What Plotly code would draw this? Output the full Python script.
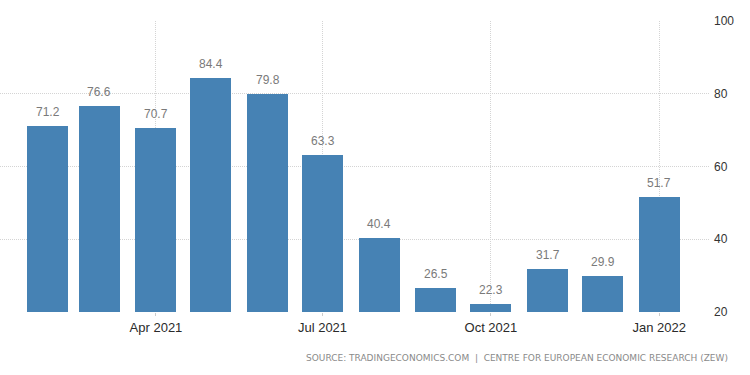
import pandas as pd
import plotly.graph_objects as go

months = ["2021-02-01", "2021-03-01", "2021-04-01", "2021-05-01", "2021-06-01", "2021-07-01",
          "2021-08-01", "2021-09-01", "2021-10-01", "2021-11-01", "2021-12-01", "2022-01-01"]
values = [71.2, 76.6, 70.7, 84.4, 79.8, 63.3, 40.4, 26.5, 22.3, 31.7, 29.9, 51.7]
tick_dates = ["2021-04-01", "2021-07-01", "2021-10-01", "2022-01-01"]
tick_labels = ["Apr 2021", "Jul 2021", "Oct 2021", "Jan 2022"]
y_ticks = [20, 40, 60, 80, 100]
source = "SOURCE: TRADINGECONOMICS.COM  |  CENTRE FOR EUROPEAN ECONOMIC RESEARCH (ZEW)"

DAY_MS = 86400000
x_dates = pd.to_datetime(months)
anchor = pd.Timestamp("2021-04-01")
x_start = anchor - pd.Timedelta(days=85.2)
x_end = anchor + pd.Timedelta(days=302.7)

fig = go.Figure()
fig.add_trace(go.Bar(
    x=x_dates, y=[v - 20 for v in values], base=20,
    width=22.4 * DAY_MS,
    marker=dict(color="#4682b4", line=dict(width=0)),
    hoverinfo="skip",
))

for d, v in zip(x_dates, values):
    fig.add_annotation(x=d, y=v, text=f"{v:.1f}", showarrow=False,
                       yanchor="bottom", yshift=5,
                       font=dict(family="Liberation Sans, Arial", size=12, color="#7a7a7a"))

plot_w = 710
plot_h = 312 - 21
fig.add_annotation(x=730 / plot_w, y=(312 - 358) / plot_h, xref="paper", yref="paper",
                   xanchor="right", yanchor="middle", text=source, showarrow=False,
                   font=dict(family="DejaVu Sans", size=9, color="#8a8a8a"))

fig.update_layout(
    width=750, height=375,
    margin=dict(l=0, r=40, t=21, b=63),
    paper_bgcolor="white", plot_bgcolor="white",
    showlegend=False,
    bargap=0,
)
fig.update_xaxes(
    type="date", range=[x_start, x_end],
    tickvals=pd.to_datetime(tick_dates), ticktext=tick_labels,
    showgrid=True, gridcolor="#d4d4d4", griddash="1px,1px", gridwidth=1,
    ticks="outside", ticklen=3, tickcolor="#cccccc",
    tickfont=dict(family="Liberation Sans, Arial", size=13, color="#2a2a2a"),
    showline=False, zeroline=False,
)
fig.update_yaxes(
    range=[20, 100], side="right",
    tickvals=y_ticks,
    showgrid=True, gridcolor="#d4d4d4", griddash="1px,1px", gridwidth=1,
    tickfont=dict(family="Liberation Sans, Arial", size=12, color="#333333"),
    ticks="", ticklabelstandoff=3,
    showline=False, zeroline=False,
)

fig.write_html("out.html", config={"displayModeBar": False},
               post_script="document.body.style.margin='0';")
